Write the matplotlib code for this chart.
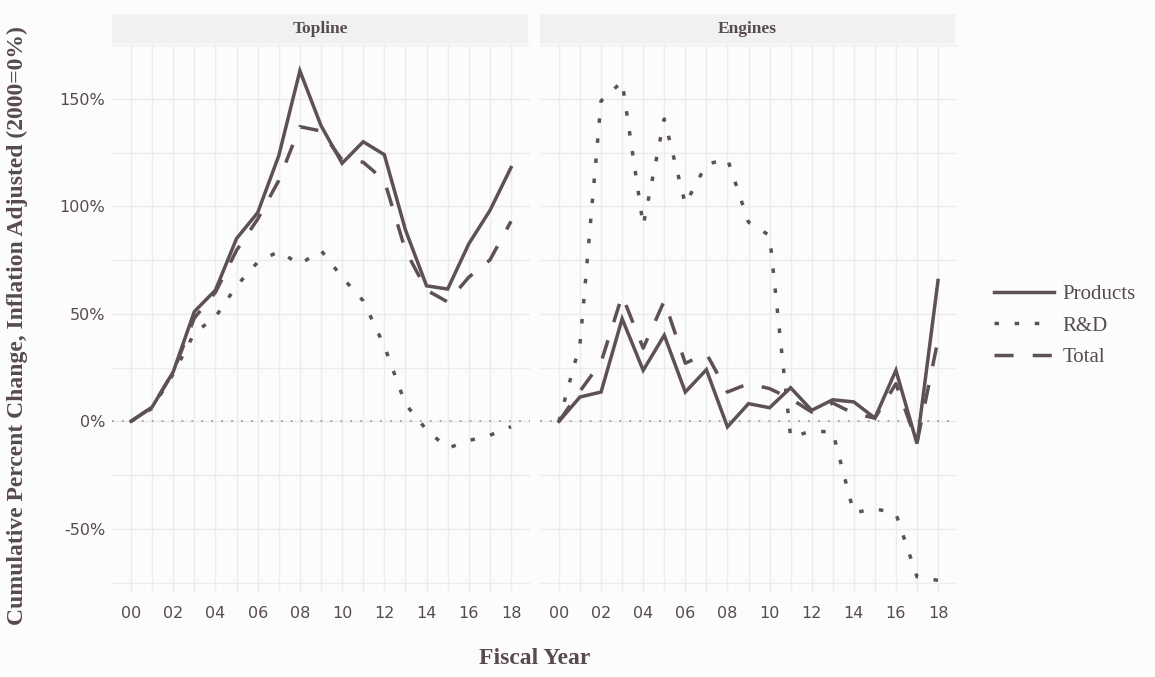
import matplotlib
matplotlib.use("Agg")
import matplotlib.pyplot as plt
from matplotlib.lines import Line2D
import numpy as np

years = list(range(0, 19))
tick_years = list(range(0, 19, 2))
tick_labels = ["00", "02", "04", "06", "08", "10", "12", "14", "16", "18"]
y_ticks = [-50, 0, 50, 100, 150]
y_tick_labels = ["-50%", "0%", "50%", "100%", "150%"]
panels = ["Topline", "Engines"]
series_names = ["Products", "R&D", "Total"]

topline_products = [0, 6.6, 23, 51, 61, 85, 97, 123.5, 163, 137.5, 120, 130, 124, 89, 63, 61.5, 82.5, 98, 118]
topline_rd = [0, 6, 22, 41, 48.5, 63, 74, 79, 73, 79.5, 67, 56, 35, 8, -4, -12.5, -9, -6.5, -2.5]
topline_total = [0, 6.5, 23, 48, 60, 79.5, 94, 112, 137, 135, 121.5, 120.5, 112, 79.5, 61, 55.5, 67, 75, 93]

engines_products = [0, 11.3, 13.6, 47.7, 23.7, 40, 13.6, 24, -2.6, 8.2, 6.3, 15.6, 5.1, 10, 9, 1.5, 23.7, -10.4, 65.5]
engines_rd = [0, 36, 149, 158, 91, 140.6, 101, 119.5, 122, 92.6, 86.4, -7.5, -4.5, -5, -42.6, -40.6, -43, -72.3, -74]
engines_total = [0, 14, 27.5, 58.5, 34, 56, 27, 31.5, 13.6, 17.5, 15.2, 10.5, 4.3, 8.5, 3.6, 1.5, 17.5, -10, 38]

data = {
    "Topline": [topline_products, topline_rd, topline_total],
    "Engines": [engines_products, engines_rd, engines_total],
}

line_color = "#5e5057"
text_color = "#574a50"
bg = "#fcfcfc"
grid_color = "#ececec"
serif = ["Liberation Serif", "DejaVu Serif"]

styles = [
    dict(linestyle="-"),
    dict(linestyle=(0, (1.3, 4.5)), dash_capstyle="butt"),
    dict(linestyle=(0, (5.5, 5.5)), dash_capstyle="butt"),
]
lw = 2.5

W, H = 1155, 677
fig = plt.figure(figsize=(W / 100, H / 100), dpi=100, facecolor=bg)

panel_x = [(112, 530), (540, 957)]
top_px, bot_px = 45, 592

for i, name in enumerate(panels):
    x0, x1 = panel_x[i]
    ax = fig.add_axes([x0 / W, 1 - bot_px / H, (x1 - x0) / W, (bot_px - top_px) / H])
    ax.set_facecolor(bg)
    for s in ax.spines.values():
        s.set_visible(False)
    ax.set_xlim(-0.9, 18.9)
    ax.set_ylim(-79.4, 174.6)
    ax.set_xticks(tick_years)
    ax.set_xticks([y for y in years if y % 2 == 1], minor=True)
    ax.set_xticklabels(tick_labels)
    ax.set_yticks(y_ticks)
    ax.set_yticks([-75, -25, 25, 75, 125, 175], minor=True)
    ax.grid(True, which="both", color=grid_color, linewidth=1.0)
    ax.set_axisbelow(True)
    ax.tick_params(which="both", length=0, colors=text_color, labelsize=11.5)
    ax.tick_params(axis="x", pad=10)
    ax.tick_params(axis="y", pad=5)
    if i == 0:
        ax.set_yticklabels(y_tick_labels)
    else:
        ax.set_yticklabels([])
    for lab in ax.get_xticklabels() + ax.get_yticklabels():
        lab.set_color(text_color)
    ax.axhline(0, color="#a39a9e", linewidth=1.3, linestyle=(0, (1, 4.5)), zorder=1)
    for vals, st, sname in zip(data[name], styles, series_names):
        ax.plot(years, vals, color=line_color, linewidth=lw, label=sname,
                solid_joinstyle="miter", zorder=3, **st)
    # strip
    sax = fig.add_axes([x0 / W, 1 - 44 / H, (x1 - 2 - x0) / W, 30 / H])
    sax.set_facecolor("#f1f1f1")
    sax.set_xticks([]); sax.set_yticks([])
    for s in sax.spines.values():
        s.set_visible(False)
    sax.text(0.5, 0.5, name, ha="center", va="center", fontsize=12.5, fontweight="bold",
             family=serif, color=text_color)

handles = [Line2D([], [], color=line_color, linewidth=lw, **st) for st in styles]
leg = fig.legend(handles, series_names, loc="center left", bbox_to_anchor=(994 / W, 1 - 326 / H),
                 frameon=False, handlelength=2.9, handletextpad=0.4, labelspacing=0.58,
                 borderpad=0, borderaxespad=0,
                 prop={"family": serif, "size": 15})
for t in leg.get_texts():
    t.set_color(text_color)

fig.text(535 / W, 1 - 658 / H, "Fiscal Year", ha="center", va="center", fontsize=17,
         fontweight="bold", family=serif, color=text_color)
fig.text(17 / W, 1 - 326 / H, "Cumulative Percent Change, Inflation Adjusted (2000=0%)",
         ha="center", va="center", rotation=90, fontsize=17, fontweight="bold",
         family=serif, color=text_color)

fig.savefig("out.png", dpi=100, facecolor=bg)
